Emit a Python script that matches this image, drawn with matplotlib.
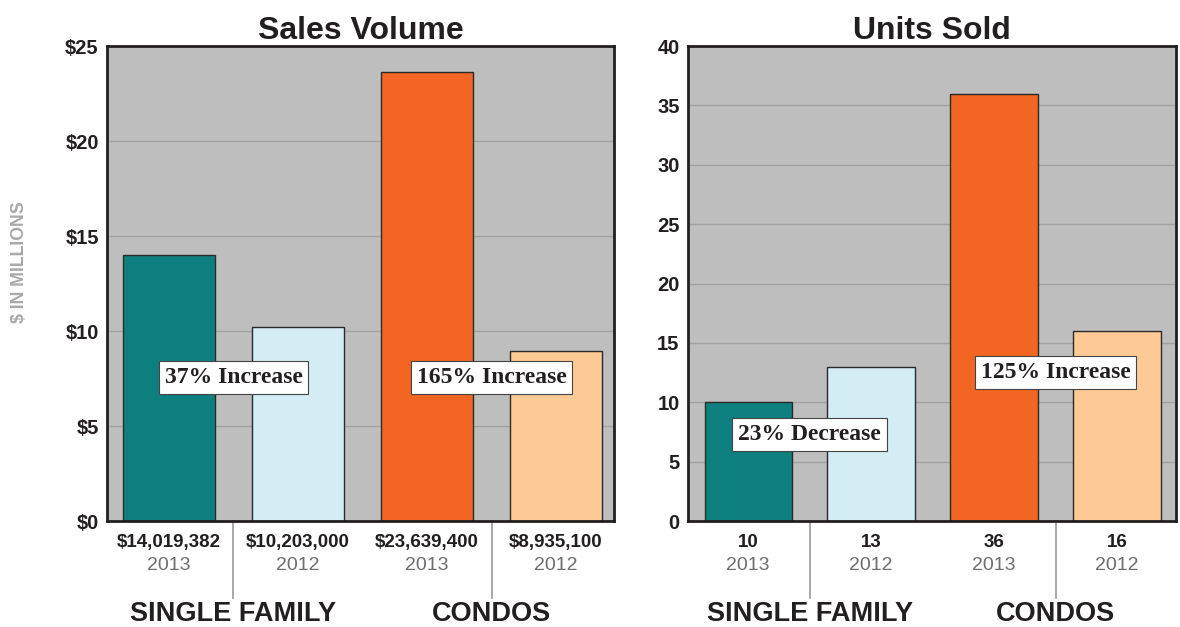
import matplotlib.pyplot as plt
import numpy as np

# data
years = ['2013', '2012', '2013', '2012']
groups = ['SINGLE FAMILY', 'CONDOS']
sales = [14.019382, 10.203, 23.6394, 8.9351]
sales_lbl = ['$14,019,382', '$10,203,000', '$23,639,400', '$8,935,100']
units = [10, 13, 36, 16]
units_lbl = ['10', '13', '36', '16']
sales_pct = ['37% Increase', '165% Increase']
units_pct = ['23% Decrease', '125% Increase']
colors = ['#0e7f7f', '#d4ecf3', '#f26522', '#fdca96']

plt.rcParams['font.family'] = ['Liberation Sans', 'DejaVu Sans']

fig = plt.figure(figsize=(11.8, 6.27), dpi=100)
ax1 = fig.add_axes([0.0907, 0.169, 0.4297, 0.7576])
ax2 = fig.add_axes([0.583, 0.169, 0.4136, 0.7576])


def draw(ax, vals, vlabels, title, ymax, step, fmt, pct, pct_y, xlim):
    x = np.arange(len(vals))
    ax.set_facecolor('#bebebe')
    ax.set_axisbelow(True)
    ax.yaxis.grid(True, color='#a3a3a3', lw=1)
    ax.bar(x, vals, width=0.71, color=colors, edgecolor='#2a2a2a', lw=1)
    ax.set_xlim(*xlim)
    ax.set_ylim(0, ymax)
    ticks = np.arange(0, ymax + step, step)
    ax.set_yticks(ticks)
    ax.set_yticklabels([fmt(t) for t in ticks], fontsize=14.5, fontweight='bold',
                       color='#231f20')
    ax.set_xticks([])
    ax.tick_params(axis='y', length=0, pad=6)
    for s in ax.spines.values():
        s.set_linewidth(2)
        s.set_color('#231f20')
    ax.set_title(title, fontsize=23, fontweight='bold', color='#231f20', pad=5)

    tr = ax.get_xaxis_transform()
    for i in range(len(vals)):
        ax.text(x[i], -0.046, vlabels[i], transform=tr, ha='center', va='center',
                fontsize=13.5, fontweight='bold', color='#231f20')
        ax.text(x[i], -0.093, years[i], transform=tr, ha='center', va='center',
                fontsize=14, color='#6d6e71')
    for j, xd in enumerate([0.5, 2.5]):
        ax.plot([xd, xd], [0, -0.162], transform=tr, color='#9a9a9a', lw=1.2,
                clip_on=False)
        ax.text(xd, -0.196, groups[j], transform=tr, ha='center', va='center',
                fontsize=19.5, fontweight='bold', color='#231f20')
        ax.text(xd, pct_y[j], pct[j], ha='center', va='center', fontsize=17,
                fontweight='bold', family=['Liberation Serif', 'DejaVu Serif'],
                color='#231f20',
                bbox=dict(boxstyle='square,pad=0.25', fc='white', ec='#444444', lw=0.8))


draw(ax1, sales, sales_lbl, 'Sales Volume', 25, 5, lambda t: '$%d' % t,
     sales_pct, [7.55, 7.55], (-0.48, 3.45))
draw(ax2, units, units_lbl, 'Units Sold', 40, 5, lambda t: '%d' % t,
     units_pct, [7.3, 12.5], (-0.49, 3.48))

fig.text(20 / 1180, 1 - 262 / 627, '$ IN MILLIONS', rotation=90, ha='center',
         va='center', fontsize=12.8, fontweight='bold', color='#a7a9ac')

fig.savefig('out.png', dpi=100)
